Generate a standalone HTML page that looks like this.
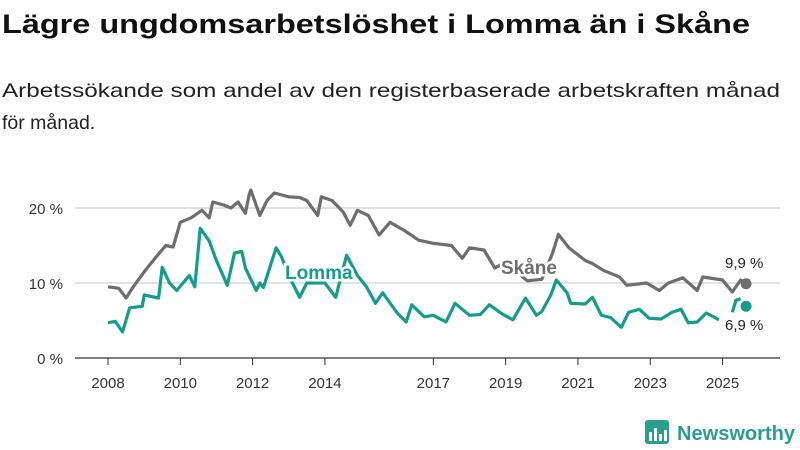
<!DOCTYPE html>
<html><head><meta charset="utf-8"><style>
body{margin:0;background:#fff;}
svg{display:block;font-family:"Liberation Sans",sans-serif;}
</style></head><body>
<svg id="c" width="800" height="450" viewBox="0 0 800 450">
<text x="2" y="33" font-size="27" font-weight="bold" fill="#111" textLength="748" lengthAdjust="spacingAndGlyphs">Lägre ungdomsarbetslöshet i Lomma än i Skåne</text>
<text x="2" y="97" font-size="19.5" fill="#222" textLength="778" lengthAdjust="spacingAndGlyphs">Arbetssökande som andel av den registerbaserade arbetskraften månad</text>
<text x="2" y="129" font-size="19.5" fill="#222">för månad.</text>
<g id="grid"></g><g id="series"></g><g id="labels"></g>
<g>
<rect x="645" y="420" width="24" height="24" rx="3" fill="#2a9d8f"/>
<rect x="649" y="432" width="3" height="9" fill="#fff"/><rect x="654" y="428" width="3" height="13" fill="#fff"/><rect x="659" y="434" width="3" height="7" fill="#fff"/><rect x="664" y="430" width="3" height="11" fill="#fff"/>
<text x="677" y="440" font-size="20" font-weight="bold" fill="#2a9d8f" textLength="118" lengthAdjust="spacingAndGlyphs">Newsworthy</text>
</g>
</svg>
<script>
const yTicks=[0,10,20];
const yTickLabels=["0 %","10 %","20 %"];
const xTicks=[2008,2010,2012,2014,2017,2019,2021,2023,2025];
const skaneDates=[2008.0,2008.3,2008.5,2008.7,2009.0,2009.3,2009.6,2009.8,2010.0,2010.3,2010.6,2010.8,2010.9,2011.2,2011.4,2011.6,2011.8,2011.9,2011.95,2012.2,2012.4,2012.6,2013.0,2013.3,2013.5,2013.8,2013.9,2014.2,2014.5,2014.7,2014.9,2015.2,2015.5,2015.8,2016.2,2016.6,2017.0,2017.5,2017.8,2018.0,2018.4,2018.7,2019.0,2019.3,2019.6,2020.0,2020.3,2020.46,2020.75,2021.2,2021.4,2021.7,2022.15,2022.35,2022.9,2023.25,2023.5,2023.9,2024.3,2024.45,2025.0,2025.27,2025.5,2025.65];
const skaneValues=[9.5,9.3,8.0,9.5,11.5,13.3,15.0,14.8,18.1,18.7,19.7,18.7,20.8,20.4,20.0,20.8,19.3,21.7,22.4,19.0,21.0,22.0,21.5,21.4,21.0,19.0,21.5,21.0,19.5,17.7,19.7,19.0,16.4,18.1,17.0,15.7,15.3,15.0,13.3,14.7,14.4,12.0,12.8,11.5,10.3,10.5,14.0,16.5,14.7,13.0,12.6,11.7,10.8,9.7,10.0,9.0,10.0,10.7,9.0,10.8,10.4,8.8,10.4,9.9];
const lommaDates=[2008.0,2008.2,2008.4,2008.6,2008.95,2009.0,2009.4,2009.5,2009.7,2009.9,2010.25,2010.4,2010.55,2010.8,2011.0,2011.3,2011.5,2011.7,2011.8,2012.1,2012.2,2012.3,2012.65,2012.8,2013.0,2013.3,2013.5,2014.0,2014.3,2014.6,2014.9,2015.15,2015.4,2015.6,2016.0,2016.25,2016.4,2016.75,2017.0,2017.35,2017.6,2018.0,2018.3,2018.55,2018.9,2019.2,2019.55,2019.85,2020.0,2020.25,2020.4,2020.7,2020.8,2021.2,2021.4,2021.65,2021.9,2022.2,2022.4,2022.7,2022.97,2023.3,2023.6,2023.85,2024.05,2024.3,2024.55,2024.75,2024.9,2025.1,2025.27,2025.37,2025.5];
const lommaValues=[4.7,4.9,3.5,6.7,6.9,8.4,8.0,12.1,10.0,9.0,11.0,9.5,17.3,15.6,13.0,9.7,14.0,14.2,12.0,9.0,10.0,9.4,14.7,13.5,11.0,8.1,10.0,10.0,8.1,13.7,11.0,9.5,7.3,8.7,6.0,4.8,7.1,5.5,5.7,4.8,7.3,5.7,5.8,7.1,5.9,5.1,8.0,5.7,6.2,8.4,10.4,8.7,7.3,7.2,8.1,5.7,5.4,4.1,6.1,6.5,5.3,5.2,6.1,6.5,4.7,4.8,6.0,5.5,5.1,null,6.1,7.7,7.9];
const lastSkane=9.9, lastLomma=6.9, lastDate=2025.65;

const NS="http://www.w3.org/2000/svg";
const X=t=>108+(t-2008)*36.15;
const Y=v=>358-v*7.5;
function mk(tag,attrs,parent,txt){const e=document.createElementNS(NS,tag);for(const k in attrs)e.setAttribute(k,attrs[k]);if(txt!=null)e.textContent=txt;parent.appendChild(e);return e;}
const grid=document.getElementById('grid'),series=document.getElementById('series'),labels=document.getElementById('labels');
yTicks.forEach((v,i)=>{
 if(v>0){const l=mk('line',{x1:75,x2:780,y1:Y(v),y2:Y(v),stroke:'#d9d9d9','stroke-width':1.5},grid);
 
 }
 const t=mk('text',{x:63,y:Y(v)+6,'text-anchor':'end','font-size':15,fill:'#333'},grid,yTickLabels[i]);
 
 
});
const ax=mk('line',{x1:75,x2:780,y1:358,y2:358,stroke:'#333','stroke-width':1.2},grid);


xTicks.forEach(y=>{
 mk('line',{x1:X(y),x2:X(y),y1:358,y2:365,stroke:'#333','stroke-width':1},grid);
 const t=mk('text',{x:X(y),y:388,'text-anchor':'middle','font-size':15,fill:'#333'},grid,String(y));
 
 
});
function pathOf(d,v){let s='',pen=false;for(let i=0;i<d.length;i++){if(v[i]==null){pen=false;continue;}s+=(pen?'L':'M')+X(d[i]).toFixed(1)+','+Y(v[i]).toFixed(1);pen=true;}return s;}
const ps=mk('path',{d:pathOf(skaneDates,skaneValues),fill:'none',stroke:'#6e6e6e','stroke-width':3.2,'stroke-linejoin':'round'},series);


const pl=mk('path',{d:pathOf(lommaDates,lommaValues),fill:'none',stroke:'#149c8c','stroke-width':3.2,'stroke-linejoin':'round'},series);


const d1=mk('circle',{cx:X(lastDate),cy:Y(lastSkane),r:5.5,fill:'#6e6e6e'},series);


const d2=mk('circle',{cx:X(lastDate),cy:Y(lastLomma),r:5.5,fill:'#149c8c'},series);


function lab(x,y,txt,col,name,bold,anchor){const t=mk('text',{x:x,y:y,'font-size':bold?19:15,'font-weight':bold?'bold':'normal',fill:col,stroke:'#fff','stroke-width':bold?5:4,'paint-order':'stroke','text-anchor':anchor||'start'},labels,txt);
 
 }
lab(285,279,'Lomma','#149c8c','lomma-label',true);
lab(501,274,'Skåne','#6e6e6e','skane-label',true);
lab(725,268,'9,9 %','#222','skane-last-value',false);
lab(725,330,'6,9 %','#222','lomma-last-value',false);
</script>
</body></html>
